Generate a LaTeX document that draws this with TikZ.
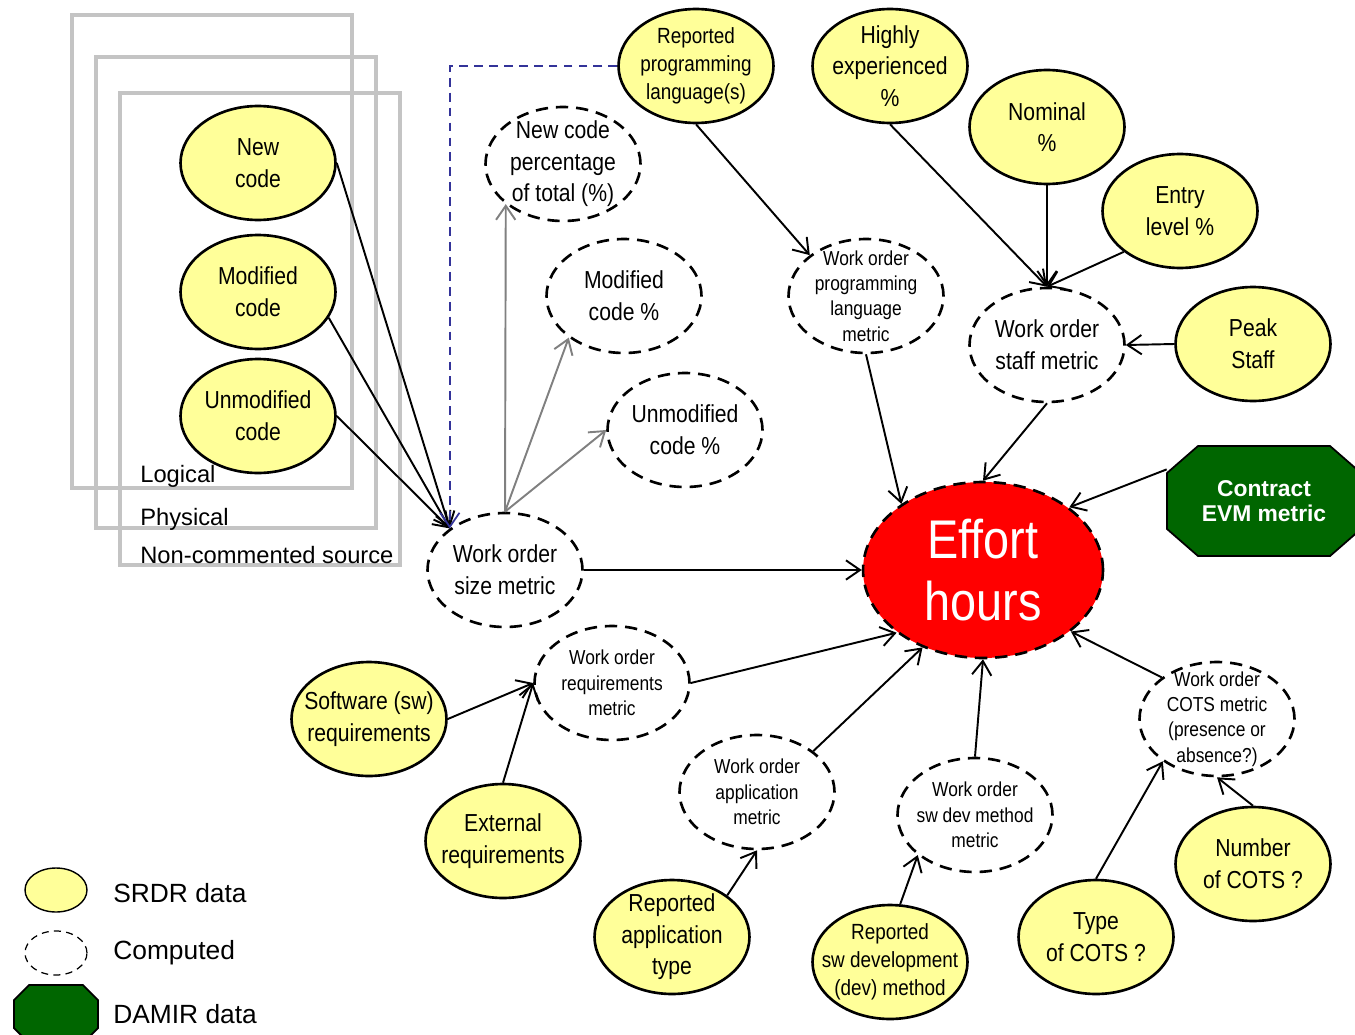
\documentclass[tikz,border=0pt]{standalone}
\usepackage{fontspec}
\setmainfont{Liberation Sans}
\newfontfamily\nrw{Liberation Sans}[FakeStretch=0.86]
\usetikzlibrary{shapes.geometric,arrows.meta}
\definecolor{srdr}{RGB}{255,255,153}
\definecolor{damir}{RGB}{0,102,0}
\definecolor{lnkblue}{RGB}{51,51,153}
\definecolor{frm}{RGB}{196,196,196}

\begin{document}
\begin{tikzpicture}[x=0.02cm, y=-0.02cm,
		src/.style={ellipse, draw, line width=1.5pt, fill=srdr, minimum width=3.1cm, minimum height=2.28cm, inner xsep=-16pt, inner ysep=-16pt, align=center, font=\nrw\fontsize{14}{18}\selectfont},
		cmp/.style={src, fill=none, dash pattern=on 7pt off 4.5pt},
		sml/.style={font=\nrw\fontsize{11.5}{14.5}\selectfont},
		mid/.style={font=\nrw\fontsize{12.5}{16}\selectfont},
		frame/.style={draw=frm, line width=2.6pt},
		lbl/.style={anchor=west, inner sep=0pt, font=\fontsize{13.5}{16}\selectfont},
		leg/.style={anchor=west, inner sep=0pt, font=\fontsize{15}{18}\selectfont},
		dmr/.style={draw, line width=1pt, fill=damir},
		arr/.style={line width=1.1pt, -{Straight Barb[length=8pt,width=11pt]}},
		grarr/.style={arr, draw=gray},
	]
	\useasboundingbox (0,0) rectangle (1355,1034);

	\draw[frame] (72,15) rectangle (352,488);
	\draw[frame] (96,57) rectangle (376,528);
	\draw[frame] (120,93) rectangle (400,565);
	\node[lbl] (lg) at (140,476) {Logical};
	\node[lbl] (ph) at (140,519) {Physical};
	\node[lbl] (ncs) at (140,555) {Non-commented source};

	\node[src] (nc) at (258,163) {New\\code};
	\node[src] (mc) at (258,292) {Modified\\code};
	\node[src] (uc) at (258,416) {Unmodified\\code};

	\node[cmp] (ncp) at (563,164) {New code\\percentage\\of total (\%)};
	\node[cmp] (mcp) at (624,296) {Modified\\code \%};
	\node[cmp] (ucp) at (685,430) {Unmodified\\code \%};
	\node[cmp] (wsz) at (505,570) {Work order\\size metric};

	\node[src, mid] (rpl) at (696,66) {Reported\\programming\\language(s)};
	\node[src] (hex) at (890,66) {Highly\\experienced\\\%};
	\node[src] (nom) at (1047,127) {Nominal\\\%};
	\node[src] (ent) at (1180,211) {Entry\\level \%};
	\node[src] (pk) at (1253,344) {Peak\\Staff};
	\node[cmp, sml] (wpl) at (866,296) {Work order\\programming\\language\\metric};
	\node[cmp] (wst) at (1047,345) {Work order\\staff metric};

	\node[ellipse, draw, line width=1.5pt, dash pattern=on 7pt off 4.5pt, fill=red, text=white, minimum width=4.8cm, minimum height=3.52cm, inner sep=-12pt, align=center, font=\nrw\fontsize{31}{35}\selectfont] (eh) at (983,570) {Effort\\hours};
	\filldraw[dmr] (1198,446) -- (1330,446) -- (1361,473) -- (1361,529) -- (1330,556) -- (1198,556) -- (1167,529) -- (1167,473) -- cycle;
	\node[minimum width=3.88cm, minimum height=2.2cm, text=white, align=center, font=\bfseries\fontsize{13}{14.5}\selectfont] (evm) at (1264,501) {Contract\\EVM metric};

	\node[src] (sw) at (369,719) {Software (sw)\\requirements};
	\node[src] (ext) at (503,841) {External\\requirements};
	\node[cmp, sml] (wrq) at (612,683) {Work order\\requirements\\metric};
	\node[cmp, sml] (wap) at (757,792) {Work order\\application\\metric};
	\node[src] (rap) at (672,937) {Reported\\application\\type};
	\node[cmp, sml] (wsd) at (975,815) {Work order\\sw dev method\\metric};
	\node[src, mid] (rsd) at (890,962) {Reported\\sw development\\(dev) method};
	\node[cmp, sml] (wco) at (1217,719) {Work order\\COTS metric\\(presence or\\absence?)};
	\node[src] (toc) at (1096,937) {Type\\of COTS ?};
	\node[src] (noc) at (1253,864) {Number\\of COTS ?};

	\node[ellipse, draw, line width=0.8pt, fill=srdr, minimum width=1.24cm, minimum height=0.88cm] (ly) at (56,890) {};
	\node[ellipse, draw, line width=0.7pt, dash pattern=on 4pt off 3pt, minimum width=1.24cm, minimum height=0.88cm] (lc) at (56,953) {};
	\filldraw[dmr] (29,985) -- (83,985) -- (98,1000) -- (98,1028) -- (83,1043) -- (29,1043) -- (14,1028) -- (14,1000) -- cycle;
	\node[leg] (lyt) at (113,893) {SRDR data};
	\node[leg] (lct) at (113,953) {Computed};
	\node[leg] (ldt) at (113,1014) {DAMIR data};

	\draw[arr] (nc.east) -- (wsz.143);
	\draw[arr] (mc.-20) -- (wsz.143);
	\draw[arr] (uc.east) -- (wsz.143);
	\draw[arr, draw=lnkblue, line width=1pt, dash pattern=on 5pt off 3.5pt] (rpl.west) -| (wsz.143);
	\draw[grarr] (wsz.north) -- (ncp.215);
	\draw[grarr] (wsz.north) -- (mcp.217);
	\draw[grarr] (wsz.north) -- (ucp.west);
	\draw[arr] (wsz.east) -- (eh.west);
	\draw[arr] (rpl.south) -- (wpl.144);
	\draw[arr] (wpl.south) -- (eh.141);
	\draw[arr] (hex.south) -- (wst.north);
	\draw[arr] (nom.south) -- (wst.north);
	\draw[arr] (ent.216) -- (wst.north);
	\draw[arr] (pk.west) -- (wst.east);
	\draw[arr] (wst.south) -- (eh.north);
	\draw[arr] (evm.162) -- (eh.36);
	\draw[arr] (wrq.east) -- (eh.216);
	\draw[arr] (sw.east) -- (wrq.west);
	\draw[arr] (ext.north) -- (wrq.west);
	\draw[arr] (wap.36) -- (eh.232);
	\draw[arr] (rap.37) -- (wap.south);
	\draw[arr] (wsd.north) -- (eh.south);
	\draw[arr] (rsd.80) -- (wsd.215);
	\draw[arr] (wco.143) -- (eh.-35);
	\draw[arr] (toc.north) -- (wco.218);
	\draw[arr] (noc.north) -- (wco.south);
\end{tikzpicture}
\end{document}
